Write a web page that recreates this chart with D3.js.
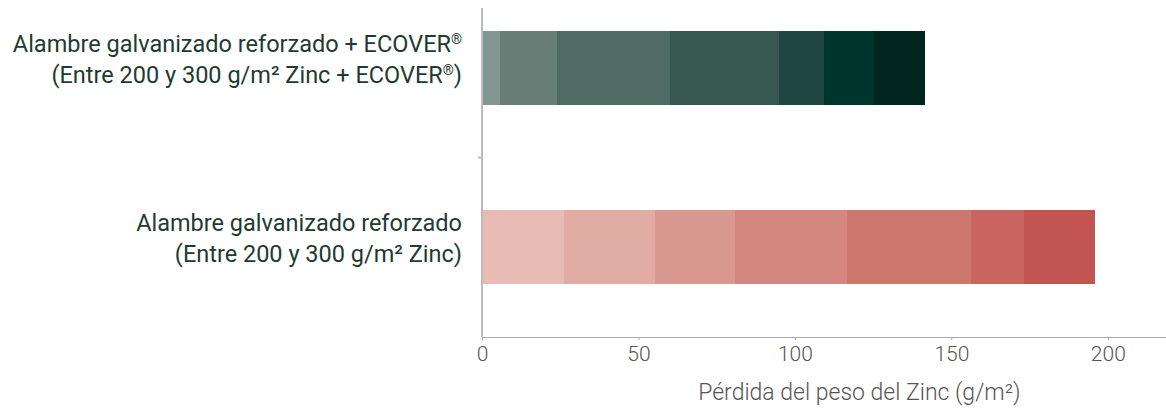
<!DOCTYPE html>
<html>
<head>
<meta charset="utf-8">
<script src="https://d3js.org/d3.v7.min.js"></script>
<style>
  body { margin: 0; background: #fff; }
  svg text { font-family: Roboto, "Noto Sans", sans-serif; }
</style>
</head>
<body>
<script>
// categories, top to bottom, each label split over two lines
var categories = ['ecover', 'reforzado'];
var labelLines = {
  ecover: ['Alambre galvanizado reforzado + ECOVER®', '(Entre 200 y 300 g/m² Zinc + ECOVER®)'],
  reforzado: ['Alambre galvanizado reforzado', '(Entre 200 y 300 g/m² Zinc)']
};

// stacked segment values (zinc loss, g/m2)
var ecoverValues = [5.8, 18.2, 36.1, 34.8, 14.4, 16.0, 16.3];
var reforzadoValues = [26.2, 29.1, 25.6, 35.8, 39.6, 16.8, 22.8];

var ecoverColors = ['#839792', '#677f77', '#506b63', '#365850', '#1f4640', '#00352d', '#00241e'];
var reforzadoColors = ['#e8bcb4', '#e0aca3', '#da9990', '#d4877f', '#cd776e', '#c86561', '#c25451'];

var xTicks = [0, 50, 100, 150, 200];
var xTitle = 'Pérdida del peso del Zinc (g/m²)';

var W = 1166, H = 409;
var margin = {top: -22, right: 0, bottom: 72, left: 482},
    w = W - margin.left - margin.right,
    h = H - margin.top - margin.bottom;

var svg = d3.select('body').append('svg')
    .attr('width', W)
    .attr('height', H)
  .append('g')
    .attr('transform', 'translate(' + margin.left + ',' + margin.top + ')');

var xScale = d3.scaleLinear()
    .domain([0, 218.6])
    .range([0, w]);

var yScale = d3.scaleBand()
    .domain(categories)
    .range([0, h])
    .paddingInner(0.59)
    .paddingOuter(0.295);

// stack each row's segments
var rows = [
  {key: 'ecover', values: ecoverValues, colors: ecoverColors},
  {key: 'reforzado', values: reforzadoValues, colors: reforzadoColors}
];
var segments = [];
rows.forEach(function (r) {
  var acc = 0;
  r.values.forEach(function (v, i) {
    segments.push({key: r.key, x0: acc, x1: acc + v, color: r.colors[i]});
    acc += v;
  });
});

svg.selectAll('rect.seg')
  .data(segments)
  .enter()
  .append('rect')
  .attr('class', 'seg')
  .attr('x', function (d) { return xScale(d.x0); })
  .attr('width', function (d) { return xScale(d.x1) - xScale(d.x0); })
  .attr('y', function (d) { return yScale(d.key); })
  .attr('height', yScale.bandwidth())
  .attr('fill', function (d) { return d.color; })
  .attr('shape-rendering', 'crispEdges');

// x axis
var xAxis = d3.axisBottom(xScale)
    .tickValues(xTicks)
    .tickSize(3)
    .tickPadding(6);

var gx = svg.append('g')
  .attr('transform', 'translate(0,' + h + ')')
  .call(xAxis);
gx.select('.domain').attr('stroke', '#aaaaaa').attr('stroke-width', 1.2);
gx.selectAll('.tick line').attr('stroke', '#aaaaaa');
gx.selectAll('.tick text')
  .attr('fill', '#555555')
  .attr('font-weight', 300)
  .attr('font-size', '21px');

svg.append('text')
  .attr('x', xScale(120.6))
  .attr('y', h + 63)
  .attr('text-anchor', 'middle')
  .attr('fill', '#555555')
  .attr('font-weight', 300)
  .attr('font-size', '23px')
  .text(xTitle);

// y axis line with a tick between the two bands
var mid = (yScale('ecover') + yScale('reforzado')) / 2 + yScale.bandwidth() / 2;

svg.append('line')
  .attr('x1', 0).attr('x2', 0)
  .attr('y1', 8 - margin.top).attr('y2', h)
  .attr('stroke', '#bbbbbb')
  .attr('stroke-width', 2);

svg.append('line')
  .attr('x1', -4).attr('x2', 0)
  .attr('y1', mid).attr('y2', mid)
  .attr('stroke', '#bbbbbb')
  .attr('stroke-width', 2);

// category labels
var lab = svg.selectAll('text.cat')
  .data(categories)
  .enter()
  .append('text')
  .attr('class', 'cat')
  .attr('text-anchor', 'end')
  .attr('fill', '#1f3a33')
  .attr('font-size', '23.5px')
  .attr('transform', function (d) {
    return 'translate(-20,' + (yScale(d) + yScale.bandwidth() / 2) + ')';
  });

var line = lab.selectAll('tspan.line')
  .data(function (d) { return labelLines[d]; })
  .enter()
  .append('tspan')
  .attr('class', 'line')
  .attr('x', 0)
  .attr('y', function (d, i) { return i === 0 ? -16 : 15; });

// the ® sign is drawn small and raised
line.each(function (d) {
  var t = d3.select(this);
  var raised = false;
  d.split(/(®)/).forEach(function (part) {
    if (!part) return;
    if (part === '®') {
      t.append('tspan').attr('font-size', '14px').attr('dy', -8).text(part);
      raised = true;
    } else {
      t.append('tspan').attr('dy', raised ? 8 : null).text(part);
      raised = false;
    }
  });
});
</script>
</body>
</html>
